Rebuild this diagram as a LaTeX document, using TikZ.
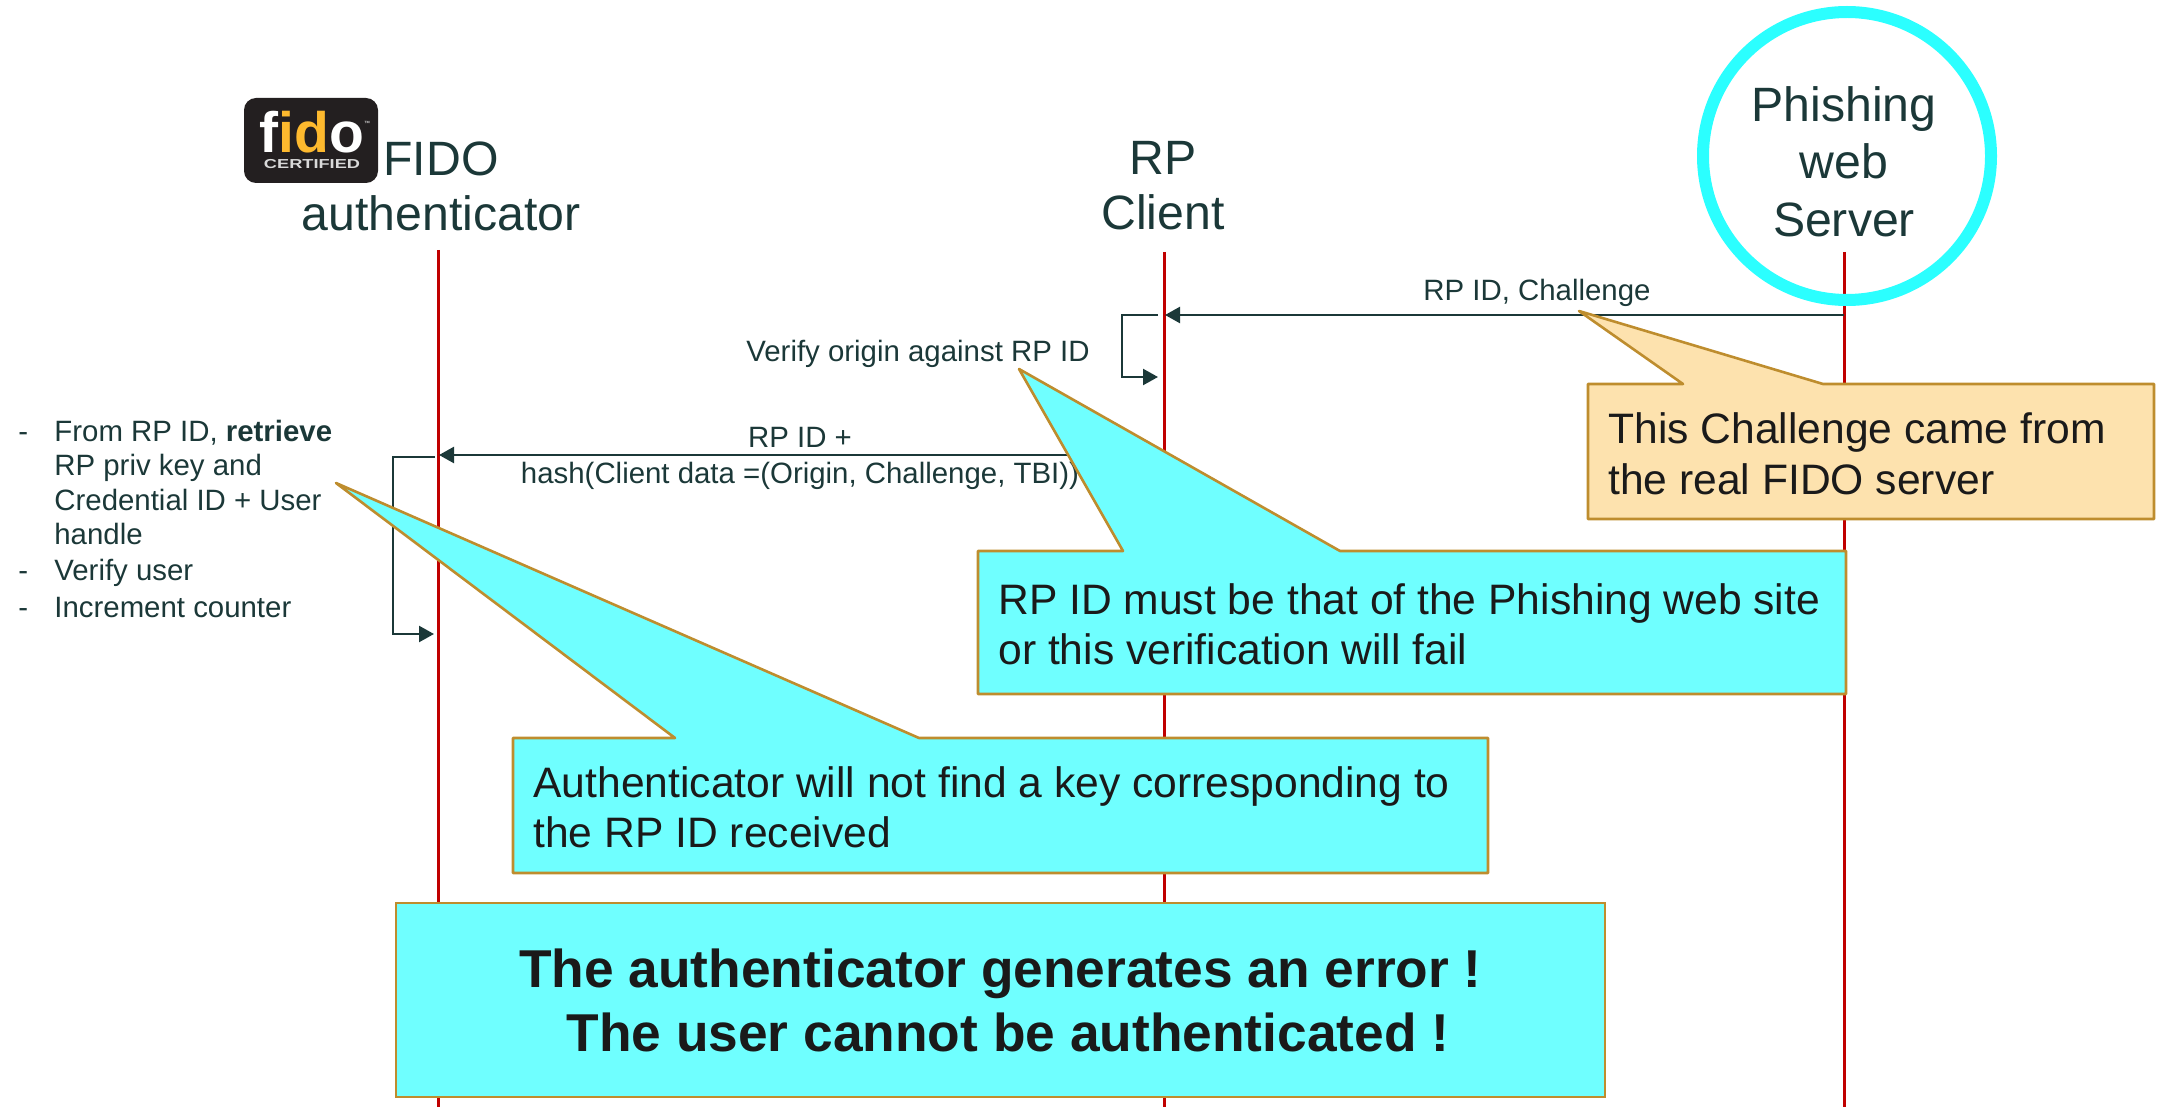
\documentclass[tikz,border=0pt]{standalone}
\usepackage{graphicx}
\usepackage{fontspec}
\setmainfont{Liberation Sans}
\usetikzlibrary{arrows.meta}
\definecolor{ink}{HTML}{1B3838}
\definecolor{blk}{HTML}{1A1A1A}
\definecolor{life}{HTML}{C00000}
\definecolor{cyanf}{HTML}{6FFFFF}
\definecolor{ring}{HTML}{2BFFFF}
\definecolor{edge}{HTML}{BE8D2E}
\definecolor{peach}{HTML}{FDE2AE}
\definecolor{logobg}{HTML}{231F20}
\definecolor{logoy}{HTML}{FDB92E}
\tikzset{
  lifeline/.style={draw=life,line width=1.5pt},
  msg/.style={draw=ink,line width=1.2pt,-{Triangle[length=7.5pt,width=8pt]}},
  head/.style={font=\fontsize{24.1}{28}\selectfont,text=ink,align=center,inner sep=0pt},
  small/.style={font=\fontsize{14.7}{18}\selectfont,text=ink,inner sep=0pt},
  note/.style={font=\fontsize{21.3}{25}\selectfont,text=blk,inner sep=0pt,align=left,anchor=base west},
  cyanshape/.style={draw=edge,fill=cyanf,line width=1.3pt,line join=round},
  peachshape/.style={draw=edge,fill=peach,line width=1.3pt,line join=round}
}
\begin{document}
\begin{tikzpicture}[x=0.5pt,y=-0.5pt]
\useasboundingbox (0,0) rectangle (2164,1107);
% lifeline ends
\coordinate (a0) at (438,250); \coordinate (a1) at (438,1107);
\coordinate (r0) at (1164,252); \coordinate (r1) at (1164,1107);
\coordinate (s0) at (1844,252); \coordinate (s1) at (1844,1107);
\draw[lifeline] (a0) -- (a1);
\draw[lifeline] (r0) -- (r1);
\draw[lifeline] (s0) -- (s1);
% headers
\node[head,anchor=base] (hauthA) at (441,231) {authenticator};
\node[head,anchor=base] (hauthF) at (441,176) {FIDO};
\node[head,anchor=base] (hrp1) at (1163,175) {RP};
\node[head,anchor=base] (hrp2) at (1163,230) {Client};
\node[head,anchor=base] (hs1) at (1844,122) {Phishing};
\node[head,anchor=base] (hs2) at (1844,179) {web};
\node[head,anchor=base] (hs3) at (1844,237) {Server};
\node[circle,draw=ring,line width=6pt,minimum size=144pt,inner sep=0pt] (ringc) at (1847,156) {};
% logo
\node[fill=logobg,rounded corners=6pt,minimum width=67pt,minimum height=42.5pt,inner sep=0pt] (logo) at (311,140.5) {};
\node[anchor=base,inner sep=0pt,align=center,font=\fontsize{28.5}{8}\selectfont\bfseries] (logot) at (312,169) {\textcolor{white}{f}\textcolor{logoy}{id}\textcolor{white}{o}\rlap{\raisebox{13.5pt}{\fontsize{3}{3}\selectfont\mdseries\textcolor{white}{™}}}\\{\fontsize{6.5}{8}\selectfont\textcolor{white!85!black}{\scalebox{1.4}[1]{CERTIFIED}}}};
% messages
\coordinate (m1a) at (1844,315); \coordinate (m1b) at (1165,315);
\draw[msg] (m1a) -- (m1b);
\node[small,anchor=base] (l1) at (1537,300) {RP ID, Challenge};
\coordinate (la) at (1158,315); \coordinate (lb) at (1122,315); \coordinate (lc) at (1122,377); \coordinate (ld) at (1158,377);
\draw[msg] (la) -- (lb) -- (lc) -- (ld);
\node[small,anchor=base west] (l2) at (746,362) {Verify origin against RP ID};
\coordinate (m2a) at (1164,455); \coordinate (m2b) at (439,455);
\draw[msg] (m2a) -- (m2b);
\node[small,anchor=base] (l3a) at (800,447) {RP ID +};
\node[small,anchor=base] (l3b) at (800,483) {hash(Client data =(Origin, Challenge, TBI))};
\coordinate (pa) at (435,457); \coordinate (pb) at (393,457); \coordinate (pc) at (393,634); \coordinate (pd) at (434,634);
\draw[msg] (pa) -- (pb) -- (pc) -- (pd);
% left list
\foreach \n/\yy/\tx in {1/441/{From RP ID, \textbf{retrieve}},2/475/{RP priv key and},3/510/{Credential ID + User},4/544/{handle},5/580/{Verify user},6/617/{Increment counter}}{
  \node[small,anchor=base west] (li\n) at (54,\yy) {\tx};
}
\node[small,anchor=base west] (d1) at (18,441) {-};
\node[small,anchor=base west] (d2) at (18,580) {-};
\node[small,anchor=base west] (d3) at (18,617) {-};
% callouts
\draw[peachshape] (1588,384) -- (1683,384) -- (1579,311) -- (1823,384) -- (2154,384) -- (2154,519) -- (1588,519) -- cycle;
\node[note] (n1) at (1608,494) {This Challenge came from\\the real FIDO server};
\draw[cyanshape] (978,551) -- (1123,551) -- (1019,369) -- (1340,551) -- (1846,551) -- (1846,694) -- (978,694) -- cycle;
\node[note] (n2) at (998,664) {RP ID must be that of the Phishing web site\\or this verification will fail};
\draw[cyanshape] (513,738) -- (675,738) -- (336,483) -- (919,738) -- (1488,738) -- (1488,873) -- (513,873) -- cycle;
\node[note] (n3) at (533,847) {Authenticator will not find a key corresponding to\\the RP ID received};
\node[draw=edge,fill=cyanf,line width=1.3pt,minimum width=604.5pt,minimum height=97pt,inner sep=0pt,font=\fontsize{26.65}{32}\selectfont\bfseries,text=blk,align=center] (big) at (1000.5,1000) {The authenticator generates an error !\\\hspace*{7.4pt}The user cannot be authenticated !};
\end{tikzpicture}
\end{document}
